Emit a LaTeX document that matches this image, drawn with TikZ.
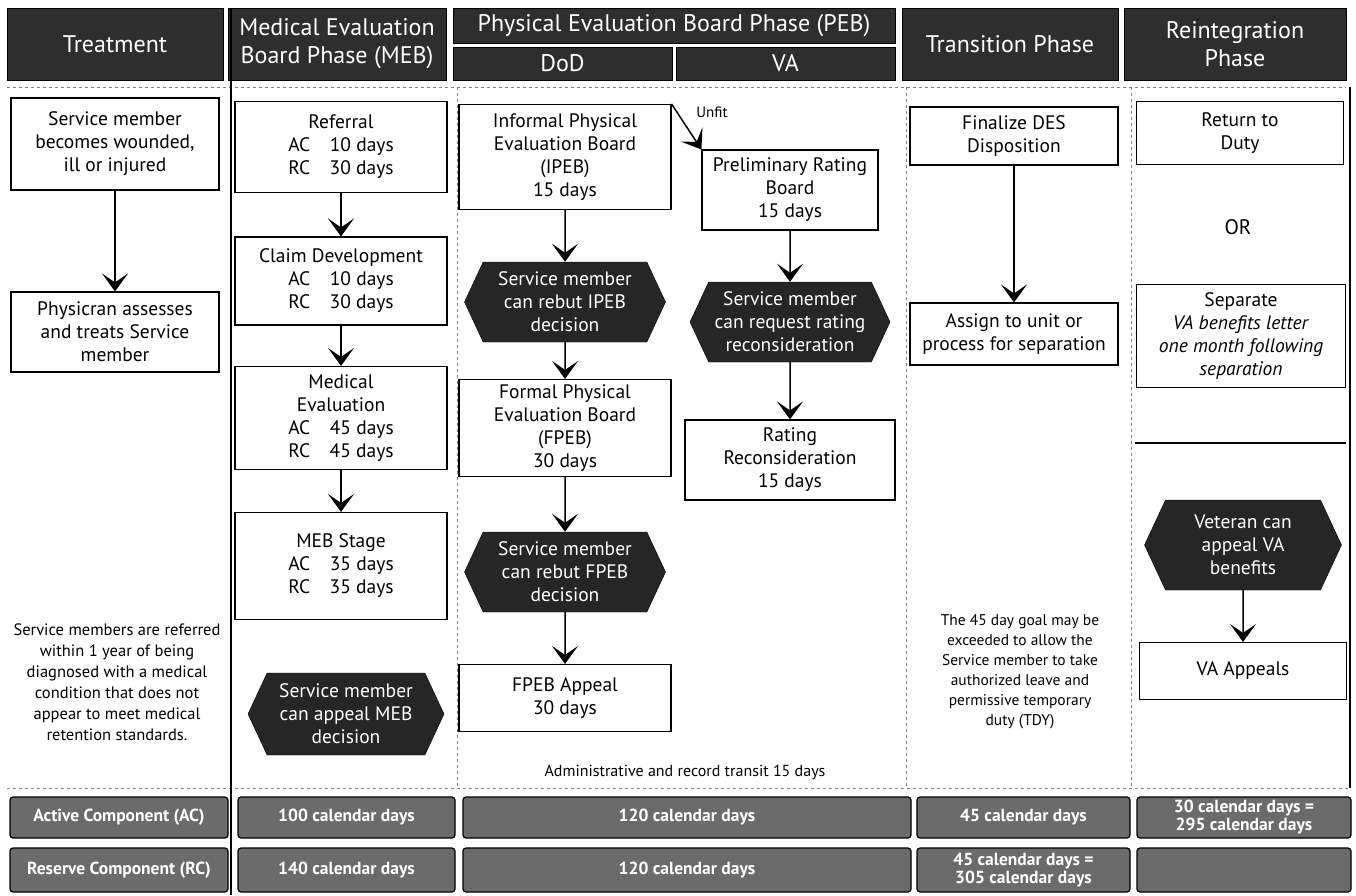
\documentclass[tikz,border=0pt]{standalone}
\usepackage{fontspec}
\setmainfont{PT Sans}
\usetikzlibrary{arrows.meta,shapes.symbols}

\begin{document}
\begin{tikzpicture}[x=1pt,y=-1pt,
    box/.style={draw,line width=1.1pt,fill=white,align=center,inner sep=2pt,font=\fontsize{19.5}{23}\selectfont},
    hexa/.style={signal,signal to=west and east,signal pointer angle=130,fill=black!85,draw=black,text=white,align=center,inner sep=1pt,font=\fontsize{19.5}{23}\selectfont},
    head/.style={fill=black!82,draw=black,text=white,align=center,inner sep=0pt,font=\fontsize{24}{28}\selectfont},
    bar/.style={fill=black!58,draw=black,line width=1.2pt,rounded corners=3pt,text=white,align=center,inner sep=0pt,font=\bfseries\fontsize{17.5}{18}\selectfont},
    note/.style={align=center,font=\fontsize{16.5}{21}\selectfont},
    >={Stealth[length=18pt,width=26pt,inset=9pt]}]
    \useasboundingbox (0,0) rectangle (1356,895);

    % phase headers
    \node[head,minimum width=216pt,minimum height=72pt] (hT) at (115,44) {Treatment};
    \node[head,minimum width=218pt,minimum height=72pt] (hM) at (337,44) {Medical Evaluation\\Board Phase (MEB)};
    \node[head,minimum width=442pt,minimum height=35pt] (hP) at (674,25.5) {Physical Evaluation Board Phase (PEB)};
    \node[head,minimum width=219pt,minimum height=33pt] (hDoD) at (562.5,63.5) {DoD};
    \node[head,minimum width=219pt,minimum height=33pt] (hVA) at (785.5,63.5) {VA};
    \node[head,minimum width=216pt,minimum height=72pt] (hTr) at (1010,44) {Transition Phase};
    \node[head,minimum width=222pt,minimum height=72pt] (hR) at (1235,44) {Reintegration\\Phase};

    % grid lines
    \draw[gray,dashed] (7,87) -- (1346,87);
    \draw[gray,dashed] (7,788) -- (1350,788);
    \draw[gray,dashed] (457,87) -- (457,788);
    \draw[gray,dashed] (906,87) -- (906,788);
    \draw[gray,dashed] (1131,87) -- (1131,788);
    \draw[line width=1.8pt] (231,8) -- (231,895);
    \draw[line width=1.2pt] (1350,87) -- (1350,788);
    \draw[line width=1.2pt] (1135,443) -- (1346,443);

    % treatment
    \node[box,minimum width=208pt,minimum height=92pt] (T1) at (115,144) {Service member\\becomes wounded,\\ill or injured};
    \node[box,minimum width=208pt,minimum height=80pt] (T2) at (115,332) {Physicran assesses\\and treats Service\\member};
    \node[note] (Tn) at (117,682) {Service members are referred\\within 1 year of being\\diagnosed with a medical\\condition that does not\\appear to meet medical\\retention standards.};

    % MEB
    \node[box,minimum width=212pt,minimum height=91pt] (M1) at (341,147) {Referral\\AC\quad 10 days\\RC\quad 30 days};
    \node[box,minimum width=212pt,minimum height=88pt] (M2) at (341,281) {Claim Development\\AC\quad 10 days\\RC\quad 30 days};
    \node[box,minimum width=212pt,minimum height=103pt] (M3) at (341,418) {Medical\\Evaluation\\AC\quad 45 days\\RC\quad 45 days};
    \node[box,minimum width=212pt,minimum height=107pt] (M4) at (341,566) {MEB Stage\\AC\quad 35 days\\RC\quad 35 days};
    \node[hexa,minimum width=196pt,minimum height=82pt] (M5) at (346,714) {Service member\\can appeal MEB\\decision};

    % PEB, DoD
    \node[box,minimum width=212pt,minimum height=105pt] (D1) at (565,157) {Informal Physical\\Evaluation Board\\(IPEB)\\15 days};
    \node[hexa,minimum width=201pt,minimum height=80pt] (D2) at (565,302) {Service member\\can rebut IPEB\\decision};
    \node[box,minimum width=212pt,minimum height=97pt] (D3) at (565,428) {Formal Physical\\Evaluation Board\\(FPEB)\\30 days};
    \node[hexa,minimum width=201pt,minimum height=80pt] (D4) at (565,572) {Service member\\can rebut FPEB\\decision};
    \node[box,minimum width=212pt,minimum height=67pt] (D5) at (565,698) {FPEB Appeal\\30 days};
    \node[note,font=\fontsize{16}{19}\selectfont] (adm) at (685,772) {Administrative and record transit 15 days};

    % PEB, VA
    \node[box,minimum width=176pt,minimum height=80pt] (V1) at (790,190) {Preliminary Rating\\Board\\15 days};
    \node[hexa,minimum width=200pt,minimum height=80pt] (V2) at (790,322) {Service member\\can request rating\\reconsideration};
    \node[box,minimum width=210pt,minimum height=80pt] (V3) at (790,460) {Rating\\Reconsideration\\15 days};
    \node[font=\fontsize{15}{16}\selectfont] (unfit) at (712,112) {Unfit};

    % transition
    \node[box,minimum width=208pt,minimum height=58pt] (X1) at (1014,136) {Finalize DES\\Disposition};
    \node[box,minimum width=208pt,minimum height=62pt] (X2) at (1014,334) {Assign to unit or\\process for separation};
    \node[note,font=\fontsize{15.5}{20}\selectfont] (Xn) at (1020,672) {The 45 day goal may be\\exceeded to allow the\\Service member to take\\authorized leave and\\permissive temporary\\duty (TDY)};

    % reintegration
    \node[box,minimum width=207pt,minimum height=63pt] (R1) at (1240,133) {Return to\\Duty};
    \node[font=\fontsize{21}{24}\selectfont] (or) at (1238,227) {OR};
    \node[box,minimum width=209pt,minimum height=103pt] (R2) at (1241,336) {Separate\\\textit{VA benefits letter}\\\textit{one month following}\\\textit{separation}};
    \node[hexa,minimum width=197pt,minimum height=90pt] (R3) at (1243,545) {Veteran can\\appeal VA\\benefits};
    \node[box,minimum width=207pt,minimum height=57pt] (R4) at (1243,671) {VA Appeals};

    % day totals
    \node[bar,minimum width=218pt,minimum height=41pt] (ac0) at (119,817.5) {Active Component (AC)};
    \node[bar,minimum width=217pt,minimum height=41pt] (ac1) at (346.5,817.5) {100 calendar days};
    \node[bar,minimum width=448pt,minimum height=41pt] (ac2) at (687,817.5) {120 calendar days};
    \node[bar,minimum width=213pt,minimum height=41pt] (ac3) at (1023.5,817.5) {45 calendar days};
    \node[bar,minimum width=214pt,minimum height=41pt] (ac4) at (1244,817.5) {30 calendar days =\\295 calendar days};
    \node[bar,minimum width=218pt,minimum height=44pt] (rc0) at (119,870) {Reserve Component (RC)};
    \node[bar,minimum width=217pt,minimum height=44pt] (rc1) at (346.5,870) {140 calendar days};
    \node[bar,minimum width=448pt,minimum height=44pt] (rc2) at (687,870) {120 calendar days};
    \node[bar,minimum width=213pt,minimum height=44pt] (rc3) at (1023.5,870) {45 calendar days =\\305 calendar days};
    \node[bar,minimum width=214pt,minimum height=44pt] (rc4) at (1244,870) {};

    \begin{scope}[line width=1.5pt]
        \draw[->] (T1) to (T2);
        \draw[->] (M1) to (M2); \draw[->] (M2) to (M3); \draw[->] (M3) to (M4);
        \draw[->] (D1) to (D2); \draw[->] (D2) to (D3); \draw[->] (D3) to (D4); \draw[->] (D4) to (D5);
        \draw[->] (V1) to (V2); \draw[->] (V2) to (V3); \draw[->] (D1.north east) to (V1.north west);
        \draw[->] (X1) to (X2); \draw[->] (R3) to (R4);
    \end{scope}
\end{tikzpicture}
\end{document}
